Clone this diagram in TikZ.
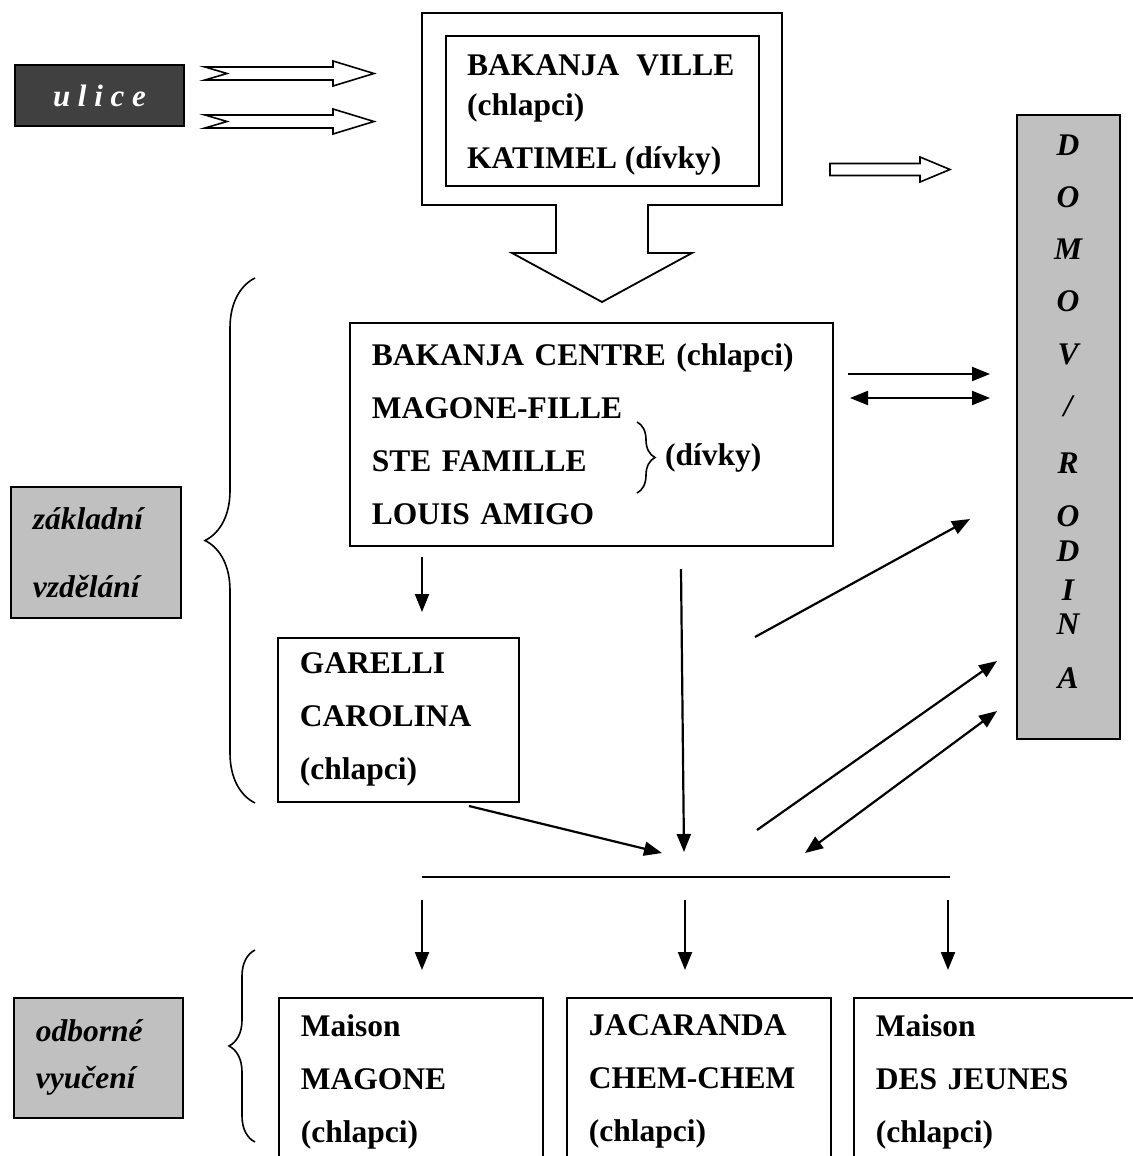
\documentclass[tikz,border=0pt]{standalone}
\usepackage{fontspec}
\setmainfont{Liberation Serif}
\usepackage{xcolor}
\usetikzlibrary{positioning,arrows.meta,decorations.pathreplacing}
\definecolor{darkgrey}{HTML}{404040}
\definecolor{lightgrey}{HTML}{C0C0C0}
\newcommand{\boxfont}{\fontsize{31.5}{53}\selectfont\bfseries}
\tikzset{
  basic/.style    = {draw, line width=1.8pt, rectangle, font=\boxfont, align=left,
                     inner xsep=22pt, inner ysep=0pt},
  level box/.style = {basic, anchor=north west},
  grey box/.style = {basic, anchor=north west, fill=lightgrey,
                     font=\fontsize{31.5}{68}\selectfont\bfseries\itshape},
  dark box/.style = {draw, line width=1.8pt, fill=darkgrey, text=white,
                     font=\fontsize{31}{36}\selectfont\bfseries\itshape},
  plain text/.style = {font=\boxfont, inner sep=0pt},
  letter/.style   = {font=\fontsize{31.5}{36}\selectfont\bfseries\itshape, inner sep=0pt},
  arr/.style      = {line width=2.2pt, -{Triangle[length=18pt,width=14pt]}},
  both/.style     = {line width=2.2pt, {Triangle[length=18pt,width=14pt]}-{Triangle[length=18pt,width=14pt]}},
  brace/.style    = {decorate, line width=1.6pt},
  notched/.pic    = {\draw[line width=1.6pt, fill=white] (0,-6.5) -- (128,-6.5) -- (128,-12.5)
                     -- (169,0) -- (128,12.5) -- (128,6.5) -- (0,6.5) -- (22,0) -- cycle;},
  hollow/.pic     = {\draw[line width=1.6pt, fill=white] (0,-6) -- (90,-6) -- (90,-12.5)
                     -- (120,0) -- (90,12.5) -- (90,6) -- (0,6) -- cycle;}
}

\begin{document}
\begin{tikzpicture}[x=1pt, y=-1pt]
\useasboundingbox (0,0) rectangle (1132,1156);

% street, and the way in
\node[dark box, minimum width=169pt, minimum height=61pt] (ulice) at (99.5,95.5) {u l i c e};
\pic at (205,73.5) {notched};
\pic at (205,121.5) {notched};

% first stop, with its big down arrow
\draw[line width=1.8pt] (422,13) -- (782,13) -- (782,205) -- (648,205) -- (648,253)
  -- (692,253) -- (602,302) -- (512,253) -- (556,253) -- (556,205) -- (422,205) -- cycle;
\node[level box, minimum width=313pt, minimum height=150pt] (ville) at (445,35) {};
\node[plain text, align=left, anchor=north west, font=\fontsize{31.5}{40}\selectfont\bfseries]
  (villetext) at (467,55)
  {BAKANJA\hspace*{17pt}VILLE\\(chlapci)\\[13pt]KATIMEL (dívky)};
\pic at (830,169.5) {hollow};

% home / family
\node[grey box, minimum width=103pt, minimum height=624pt] (domov) at (1016,114) {};
\foreach \l [count=\i] in {D,O,M,O,V,/,R,O,D,I,N,A} {
  \pgfmathsetmacro{\ly}{{145,197,249,301,354,406,463,516,551,590,624,678}[\i-1]}
  \node[letter] (dl\i) at (1068,\ly) {\l};
}

% basic education
\node[level box, minimum width=483pt, minimum height=223pt, text width=439pt] (centre) at (349,322)
  {BAKANJA CENTRE (chlapci)\\MAGONE-FILLE\\STE FAMILLE\\LOUIS AMIGO};
\draw[brace, decoration={brace, amplitude=18pt}] (637,422) -- (637,493);
\node[plain text, anchor=west] (divky) at (665,458) {(dívky)};

\node[level box, minimum width=241pt, minimum height=164pt, text width=197pt] (garelli) at (277,637)
  {GARELLI\\CAROLINA\\(chlapci)};

\node[grey box, minimum width=170pt, minimum height=131pt, text width=126pt] (zakladni) at (10,486)
  {základní\\vzdělání};
\draw[brace, decoration={brace, amplitude=50pt, aspect=0.5}] (255,803) -- (255,278);

% vocational training
\node[grey box, minimum width=169pt, minimum height=120pt, text width=125pt,
      font=\fontsize{31.5}{47}\selectfont\bfseries\itshape] (odborne) at (13,997)
  {odborné\\vyučení};
\draw[brace, decoration={brace, amplitude=26pt}] (255,1142) -- (255,950);

\node[level box, minimum width=264pt, minimum height=168pt, text width=220pt] (magone) at (278,997)
  {Maison\\MAGONE\\(chlapci)};
\node[level box, minimum width=264pt, minimum height=168pt, text width=220pt] (jacaranda) at (566,997)
  {JACARANDA\\CHEM-CHEM\\(chlapci)};
\node[level box, minimum width=290pt, minimum height=168pt, text width=246pt] (jeunes) at (853,997)
  {Maison\\DES JEUNES\\(chlapci)};

% arrow ends
\coordinate (c1) at (422,557);  \coordinate (g1) at (422,612);
\coordinate (c2) at (848,374);  \coordinate (h2) at (990,374);
\coordinate (c3) at (850,398);  \coordinate (h3) at (990,398);
\coordinate (c4) at (755,637);  \coordinate (h4) at (970,519);
\coordinate (c5) at (681,569);  \coordinate (m5) at (684,852);
\coordinate (g6) at (469,806);  \coordinate (m6) at (662,853);
\coordinate (m7) at (757,830);  \coordinate (h7) at (997,661);
\coordinate (m8) at (805,853);  \coordinate (h8) at (997,711);
\coordinate (bl) at (422,877);  \coordinate (br) at (950,877);

\draw[arr] (c1) -- (g1);
\draw[arr] (c2) -- (h2);
\draw[both] (c3) -- (h3);
\draw[arr] (c4) -- (h4);
\draw[arr] (c5) -- (m5);
\draw[arr] (g6) -- (m6);
\draw[arr] (m7) -- (h7);
\draw[both] (m8) -- (h8);
\draw[line width=1.8pt] (bl) -- (br);

\foreach \x/\n in {422/1,685/2,948/3} {
  \coordinate (s\n) at (\x,900);
  \coordinate (e\n) at (\x,970);
  \draw[arr] (s\n) -- (e\n);
}

\end{tikzpicture}
\end{document}
